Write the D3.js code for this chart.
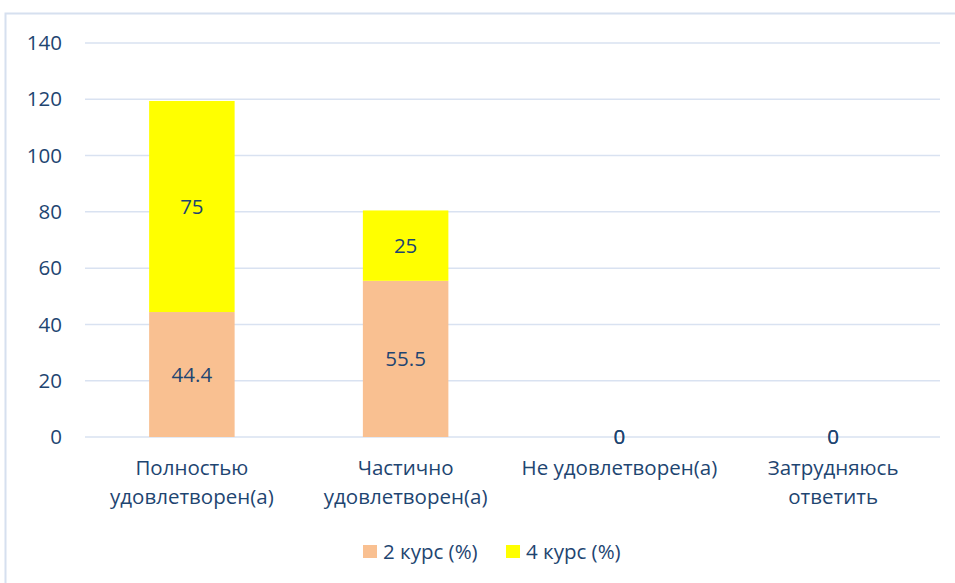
<!DOCTYPE html>
<html>
<head>
<meta charset="utf-8">
<script src="https://cdn.jsdelivr.net/npm/d3@7/dist/d3.min.js"></script>
<style>
  body { margin: 0; background: #fff; }
  text { font-family: "Open Sans", "Noto Sans", sans-serif; fill: #1e4571; }
</style>
</head>
<body>
<div id="chart"></div>
<script>
var categories = [["Полностью", "удовлетворен(а)"], ["Частично", "удовлетворен(а)"], ["Не удовлетворен(а)"], ["Затрудняюсь", "ответить"]];
var seriesNames = ["2 курс (%)", "4 курс (%)"];
var values2 = [44.4, 55.5, 0, 0];
var values4 = [75, 25, 0, 0];
var yTicks = [0, 20, 40, 60, 80, 100, 120, 140];
var colors = ["#f9c091", "#ffff00"];

var W = 955, H = 583;
var margin = {top: 43, right: 15, bottom: 146, left: 85},
    width = 940 - margin.left,
    height = 437 - margin.top;
var fs = "20.5px";

var svg = d3.select("#chart").append("svg")
    .attr("width", W)
    .attr("height", H);

// chart border (only left and top visible)
svg.append("rect")
    .attr("x", 5.5).attr("y", 13.5)
    .attr("width", 1000).attr("height", 1000)
    .style("fill", "none")
    .style("stroke", "#d6e0ef")
    .style("stroke-width", 2);

var g = svg.append("g")
    .attr("transform", "translate(" + margin.left + "," + margin.top + ")");

var x = d3.scaleBand().domain(d3.range(categories.length)).range([0, width]).paddingInner(0.6).paddingOuter(0.3);
var y = d3.scaleLinear().domain([0, 140]).range([height, 0]);

// gridlines
g.selectAll(".grid")
  .data(yTicks)
  .enter().append("line")
    .attr("class", "grid")
    .attr("x1", 0).attr("x2", width)
    .attr("y1", function(d) { return y(d); })
    .attr("y2", function(d) { return y(d); })
    .style("stroke", "#d9e2f1")
    .style("stroke-width", 1.5);

// y labels
g.selectAll(".ylab")
  .data(yTicks)
  .enter().append("text")
    .attr("class", "ylab")
    .attr("x", -23)
    .attr("y", function(d) { return y(d); })
    .attr("dy", "0.35em")
    .style("text-anchor", "end")
    .style("font-size", fs)
    .text(function(d) { return d; });

var stacked = d3.stack().keys([0, 1])(categories.map(function(c, i) { return {0: values2[i], 1: values4[i], i: i}; }));

stacked.forEach(function(layer, k) {
  g.selectAll(".bar" + k)
    .data(layer)
    .enter().append("rect")
      .attr("x", function(d) { return x(d.data.i); })
      .attr("y", function(d) { return y(d[1]); })
      .attr("width", x.bandwidth())
      .attr("height", function(d) { return y(d[0]) - y(d[1]); })
      .style("fill", colors[k]);

  g.selectAll(".lab" + k)
    .data(layer)
    .enter().append("text")
      .attr("x", function(d) { return x(d.data.i) + x.bandwidth() / 2; })
      .attr("y", function(d) { return y((d[0] + d[1]) / 2); })
      .attr("dy", "0.35em")
      .style("text-anchor", "middle")
      .style("font-size", fs)
      .text(function(d) { return d[1] - d[0] === 0 ? 0 : +(d[1] - d[0]).toFixed(1); });
});

// category labels
var cat = g.selectAll(".cat")
  .data(categories)
  .enter().append("text")
    .attr("class", "cat")
    .attr("x", function(d, i) { return x(i) + x.bandwidth() / 2; })
    .attr("y", height + 38)
    .style("text-anchor", "middle")
    .style("font-size", fs);
cat.selectAll("tspan")
  .data(function(d) { return d; })
  .enter().append("tspan")
    .attr("x", function() { return this.parentNode.getAttribute("x"); })
    .attr("dy", function(d, j) { return j === 0 ? 0 : 29; })
    .text(function(d) { return d; });

// legend
var legendX = [363, 506];
var leg = svg.selectAll(".leg")
  .data(seriesNames)
  .enter().append("g")
    .attr("transform", function(d, i) { return "translate(" + legendX[i] + ",545)"; });
leg.append("rect")
    .attr("width", 14).attr("height", 13)
    .style("fill", function(d, i) { return colors[i]; });
leg.append("text")
    .attr("x", 20).attr("y", 7)
    .attr("dy", "0.35em")
    .style("font-size", fs)
    .text(function(d) { return d; });
</script>
</body>
</html>
